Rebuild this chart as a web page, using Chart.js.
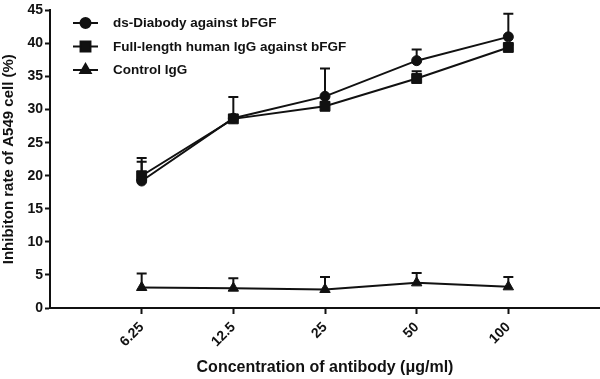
<!DOCTYPE html>
<html>
<head>
<meta charset="utf-8">
<script src="https://cdn.jsdelivr.net/npm/chart.js@4.4.1/dist/chart.umd.min.js"></script>
<style>
  html, body { margin: 0; padding: 0; background: #fff; }
  #wrap { width: 600px; height: 379px; position: relative; }
</style>
</head>
<body>
<div id="wrap"><canvas id="inhibitionChart"></canvas></div>
<script>
// concentrations (µg/ml) shown on x axis
const concLabels = ['6.25', '12.5', '25', '50', '100'];

// mean inhibition rate (%) and upper error (SD)
const diabodyMean = [19.2, 28.7, 32.0, 37.4, 41.0];
const diabodyErr = [3.5, 3.2, 4.2, 1.7, 3.5];
const iggMean = [20.0, 28.6, 30.5, 34.7, 39.4];
const iggErr = [2.1, 0.5, 0.6, 1.1, 0.4];
const controlMean = [3.1, 3.0, 2.8, 3.8, 3.2];
const controlErr = [2.1, 1.5, 1.9, 1.5, 1.5];

const seriesNames = ['ds-Diabody against bFGF', 'Full-length human IgG against bFGF', 'Control IgG'];
const yTicks = [0, 5, 10, 15, 20, 25, 30, 35, 40, 45];

const FONT = 'Liberation Sans, Arial, sans-serif';

function toPoints(values) {
    return values.map((v, i) => ({ x: i + 1, y: v }));
}

// one-sided (upward) error bars
const errorBars = {
    id: 'errorBars',
    beforeDatasetsDraw(chart) {
        const ctx = chart.ctx;
        const xs = chart.scales.x;
        const ys = chart.scales.y;
        ctx.save();
        ctx.strokeStyle = '#111';
        ctx.lineWidth = 2;
        chart.data.datasets.forEach(ds => {
            ds.errors.forEach((e, i) => {
                const px = xs.getPixelForValue(ds.data[i].x);
                const y0 = ys.getPixelForValue(ds.data[i].y);
                const y1 = ys.getPixelForValue(ds.data[i].y + e);
                ctx.beginPath();
                ctx.moveTo(px, y0);
                ctx.lineTo(px, y1);
                ctx.moveTo(px - 5, y1);
                ctx.lineTo(px + 5, y1);
                ctx.stroke();
            });
        });
        ctx.restore();
    }
};

// legend drawn as line + marker + label, inside the plot
const lineLegend = {
    id: 'lineLegend',
    afterDraw(chart) {
        const ctx = chart.ctx;
        ctx.save();
        chart.data.datasets.forEach((ds, i) => {
            const y = 23 + i * 23.5;
            ctx.strokeStyle = '#111';
            ctx.lineWidth = 2;
            ctx.beginPath();
            ctx.moveTo(73, y);
            ctx.lineTo(98, y);
            ctx.stroke();
            ctx.fillStyle = '#111';
            Chart.helpers.drawPoint(ctx, {
                pointStyle: ds.pointStyle,
                radius: ds.pointRadius,
                borderWidth: 1
            }, 85.5, y);
            ctx.fillStyle = '#111';
            ctx.font = 'bold 13.5px ' + FONT;
            ctx.textBaseline = 'middle';
            ctx.fillText(ds.label, 113, y + 0.5);
        });
        ctx.restore();
    }
};

function makeSeries(label, mean, err, style, radius) {
    return {
        label: label,
        data: toPoints(mean),
        errors: err,
        borderColor: '#111',
        backgroundColor: '#111',
        borderWidth: 2,
        pointStyle: style,
        pointRadius: radius,
        pointBorderWidth: 1,
        pointBackgroundColor: '#111',
        tension: 0,
        clip: false
    };
}

new Chart(document.getElementById('inhibitionChart'), {
    type: 'line',
    data: {
        datasets: [
            makeSeries(seriesNames[0], diabodyMean, diabodyErr, 'circle', 5),
            makeSeries(seriesNames[1], iggMean, iggErr, 'rect', 7),
            makeSeries(seriesNames[2], controlMean, controlErr, 'triangle', 6)
        ]
    },
    options: {
        responsive: true,
        maintainAspectRatio: false,
        animation: false,
        layout: { autoPadding: false, padding: { top: 7, right: 0, left: 0, bottom: 0 } },
        plugins: {
            legend: { display: false },
            tooltip: { enabled: false }
        },
        scales: {
            x: {
                type: 'linear',
                min: 0,
                max: 6,
                afterFit(scale) {
                    scale.height = 71;
                    scale.paddingLeft = 0;
                    scale.paddingRight = 0;
                },
                afterBuildTicks(scale) {
                    scale.ticks = [0, 1, 2, 3, 4, 5, 6].map(v => ({ value: v }));
                },
                border: { color: '#111', width: 2 },
                grid: {
                    drawOnChartArea: false,
                    tickLength: 6,
                    tickWidth: 2,
                    tickColor: c => (c.tick && c.tick.value >= 1 && c.tick.value <= 5) ? '#111' : 'rgba(0,0,0,0)'
                },
                ticks: {
                    autoSkip: false,
                    minRotation: 45,
                    maxRotation: 45,
                    padding: 5,
                    color: '#111',
                    font: { family: FONT, size: 14, weight: 'bold' },
                    callback: v => concLabels[v - 1] || ''
                },
                title: {
                    display: true,
                    text: 'Concentration of antibody (μg/ml)',
                    color: '#111',
                    font: { family: FONT, size: 16, weight: 'bold' },
                    padding: { top: 2, bottom: 2 }
                }
            },
            y: {
                min: 0,
                max: 45,
                afterFit(scale) { scale.width = 50; },
                afterBuildTicks(scale) {
                    scale.ticks = yTicks.map(v => ({ value: v }));
                },
                border: { color: '#111', width: 2 },
                grid: {
                    drawOnChartArea: false,
                    tickLength: 5,
                    tickWidth: 2,
                    tickColor: '#111'
                },
                ticks: {
                    padding: 2,
                    color: '#111',
                    font: { family: FONT, size: 14, weight: 'bold' }
                },
                title: {
                    display: true,
                    text: 'Inhibiton rate of A549 cell (%)',
                    color: '#111',
                    font: { family: FONT, size: 15, weight: 'bold' },
                    padding: { top: 0, bottom: 1 }
                }
            }
        }
    },
    plugins: [errorBars, lineLegend]
});
</script>
</body>
</html>
